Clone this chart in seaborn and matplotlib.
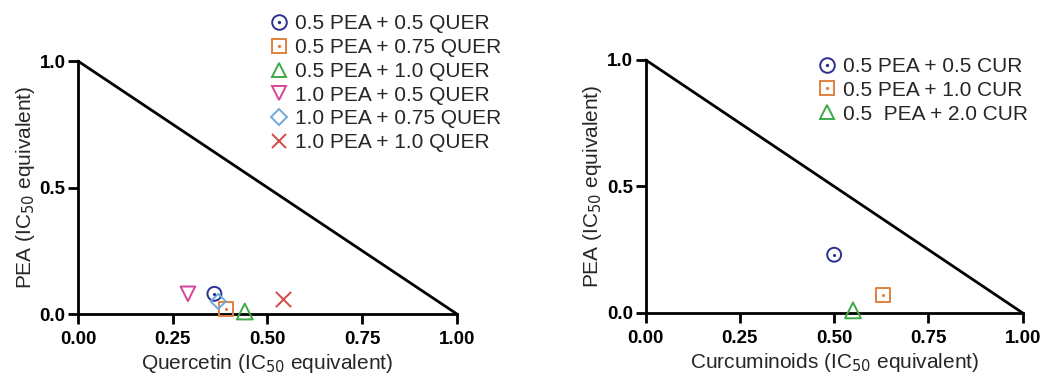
import numpy as np
import pandas as pd
import matplotlib
matplotlib.use("Agg")
import matplotlib.pyplot as plt
import seaborn as sns
from matplotlib.lines import Line2D

# ---- data ----
quer_labels = ["0.5 PEA + 0.5 QUER", "0.5 PEA + 0.75 QUER", "0.5 PEA + 1.0 QUER",
               "1.0 PEA + 0.5 QUER", "1.0 PEA + 0.75 QUER", "1.0 PEA + 1.0 QUER"]
quer_x = [0.36, 0.39, 0.44, 0.29, 0.37, 0.54]
quer_y = [0.08, 0.02, 0.01, 0.08, 0.05, 0.06]

cur_labels = ["0.5 PEA + 0.5 CUR", "0.5 PEA + 1.0 CUR", "0.5  PEA + 2.0 CUR"]
cur_x = [0.50, 0.63, 0.55]
cur_y = [0.23, 0.07, 0.01]

x_ticks = [0.0, 0.25, 0.5, 0.75, 1.0]
x_ticklabels = ["0.00", "0.25", "0.50", "0.75", "1.00"]
y_ticks = [0.0, 0.5, 1.0]
y_ticklabels = ["0.0", "0.5", "1.0"]
line_x = [0.0, 1.0]
line_y = [1.0, 0.0]

# ---- styles ----
markers = ["o", "s", "^", "v", "D", "x"]
colors = ["#2b2f8f", "#e0813e", "#3daa48", "#d6459a", "#6fa9dc", "#d34a45"]
sizes = [100, 110, 130, 110, 60, 120]
dotted = [True, True, False, False, False, False]

sns.set_style("ticks")
plt.rcParams["font.family"] = ["Liberation Sans", "DejaVu Sans"]

fig = plt.figure(figsize=(10.44, 3.77), dpi=100)
ax1 = fig.add_axes([0.0747, 0.167, 0.363, 0.671])
ax2 = fig.add_axes([0.6185, 0.170, 0.361, 0.671])


def draw(ax, labels, xs, ys, xlabel, legend_anchor):
    df = pd.DataFrame({"x": xs, "y": ys, "label": labels})
    sns.lineplot(x=line_x, y=line_y, ax=ax, color="black", linewidth=2.0,
                 clip_on=False, zorder=2)
    handles = []
    for i in range(len(df)):
        sub = df.iloc[[i]]
        m, c = markers[i], colors[i]
        if m == "x":
            sns.scatterplot(data=sub, x="x", y="y", ax=ax, marker=m, s=sizes[i],
                            color=c, linewidth=1.4, clip_on=False, zorder=4)
            h = Line2D([], [], linestyle="none", marker=m, markersize=10.5,
                       color=c, markeredgewidth=1.4)
        else:
            sns.scatterplot(data=sub, x="x", y="y", ax=ax, marker=m, s=sizes[i],
                            facecolor="none", edgecolor=c, linewidth=1.4,
                            clip_on=False, zorder=4)
            h = Line2D([], [], linestyle="none", marker=m,
                       markersize=(10.5 if m != "D" else 8),
                       markerfacecolor="none", markeredgecolor=c,
                       markeredgewidth=1.4)
        if dotted[i]:
            sns.scatterplot(data=sub, x="x", y="y", ax=ax, marker="o", s=5,
                            color=c, linewidth=0, clip_on=False, zorder=5)
            dot = Line2D([], [], linestyle="none", marker="o", markersize=2.4,
                         color=c, markeredgewidth=0)
            h = (h, dot)
        handles.append(h)

    ax.set_xlim(0, 1)
    ax.set_ylim(0, 1)
    ax.set_xticks(x_ticks)
    ax.set_xticklabels(x_ticklabels, fontweight="bold", fontsize=13.5)
    ax.set_yticks(y_ticks)
    ax.set_yticklabels(y_ticklabels, fontweight="bold", fontsize=13.5)
    ax.tick_params(direction="out", length=7, width=2, colors="black")
    ax.tick_params(axis="x", pad=5)
    ax.tick_params(axis="y", pad=2)
    for s in ["top", "right"]:
        ax.spines[s].set_visible(False)
    for s in ["left", "bottom"]:
        ax.spines[s].set_linewidth(2)
        ax.spines[s].set_color("black")
    ax.set_xlabel(xlabel, fontsize=15, labelpad=3)
    ax.set_ylabel("PEA (IC$_{50}$ equivalent)", fontsize=15, labelpad=2)
    leg = ax.legend(handles, labels, loc="upper left",
                    bbox_to_anchor=legend_anchor, bbox_transform=fig.transFigure,
                    frameon=False, fontsize=15, handlelength=0.7,
                    handletextpad=0.45, labelspacing=0.23, borderaxespad=0,
                    borderpad=0)
    return leg


draw(ax1, quer_labels, quer_x, quer_y, "Quercetin (IC$_{50}$ equivalent)", (0.26, 0.962))
draw(ax2, cur_labels, cur_x, cur_y, "Curcuminoids (IC$_{50}$ equivalent)", (0.785, 0.849))

fig.savefig("out.png", dpi=100)
